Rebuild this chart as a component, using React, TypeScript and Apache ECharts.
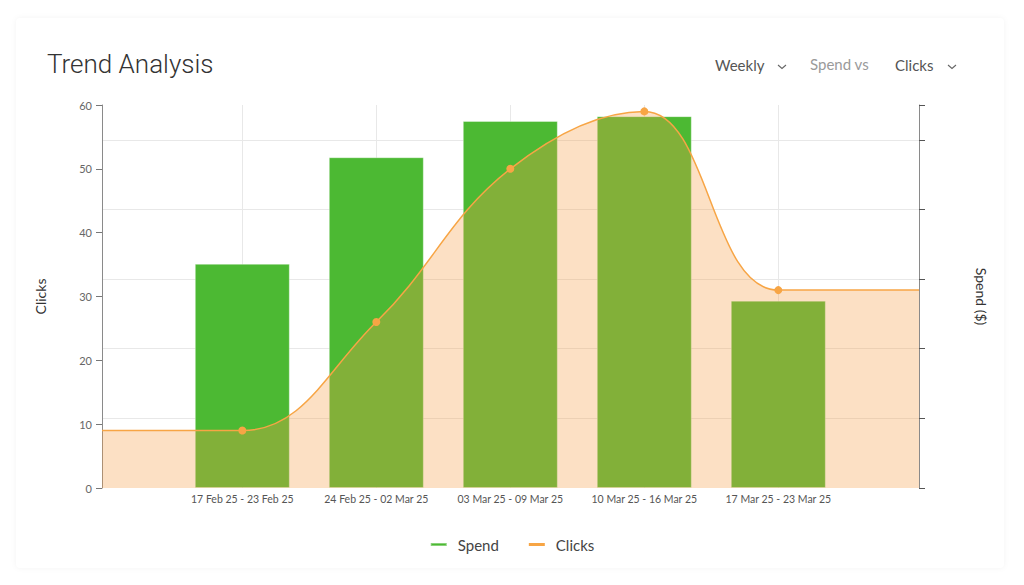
import React, { useEffect, useRef } from "react";
import * as echarts from "echarts";

const weeks = [
  "17 Feb 25 - 23 Feb 25",
  "24 Feb 25 - 02 Mar 25",
  "03 Mar 25 - 09 Mar 25",
  "10 Mar 25 - 16 Mar 25",
  "17 Mar 25 - 23 Mar 25",
];
const spend = [322, 475, 527, 534, 269];
const clicks = [9, 26, 50, 59, 31];

const GREEN = "#4cb933";
const ORANGE = "#f7a545";
const FONT = "Lato, 'Noto Sans', sans-serif";

export default function App() {
  const ref = useRef<HTMLDivElement>(null);

  useEffect(() => {
    if (!ref.current) return;
    const chart = echarts.init(ref.current, undefined, { renderer: "svg" });
    const xMin = -1.047;
    const xMax = weeks.length - 1 + 1.05;
    const lineData: any[] = [
      { value: [xMin, clicks[0]], symbol: "none" },
      ...clicks.map((c, i) => [i, c]),
      { value: [xMax, clicks[clicks.length - 1]], symbol: "none" },
    ];
    const chev = (x: number, y: number) => ({
      type: "polyline",
      shape: { points: [[x, y], [x + 4, y + 3.5], [x + 8, y]] },
      style: { stroke: "#666", lineWidth: 1.1, fill: null },
    });
    chart.setOption({
      animation: false,
      textStyle: { fontFamily: FONT },
      title: {
        text: "Trend Analysis",
        left: 42,
        top: 46,
        textStyle: {
          fontFamily: "Roboto, sans-serif",
          fontWeight: 300,
          fontSize: 26,
          color: "#333",
        },
      },
      graphic: [
        {
          type: "text",
          left: 715,
          top: 57,
          style: { text: "Weekly", font: "15px " + FONT, fill: "#555" },
        },
        chev(778, 65),
        {
          type: "text",
          left: 810,
          top: 56,
          style: { text: "Spend vs", font: "15px " + FONT, fill: "#9a9a9a" },
        },
        {
          type: "text",
          left: 895,
          top: 57,
          style: { text: "Clicks", font: "15px " + FONT, fill: "#555" },
        },
        chev(948, 65),
      ],
      legend: {
        bottom: 28,
        left: "center",
        itemWidth: 16,
        itemHeight: 3,
        itemGap: 30,
        textStyle: { fontSize: 15, color: "#444", fontFamily: FONT, padding: [0, 0, 0, 6] },
        data: [
          { name: "Spend", icon: "rect", itemStyle: { color: GREEN } },
          { name: "Clicks", icon: "rect", itemStyle: { color: ORANGE } },
        ],
      },
      grid: { left: 102, right: 105, top: 105, bottom: 97, containLabel: false },
      xAxis: {
        type: "value",
        min: xMin,
        max: xMax,
        axisLine: { show: false },
        axisTick: { show: false, customValues: weeks.map((_, i) => i) },
        axisLabel: {
          customValues: weeks.map((_, i) => i),
          formatter: (v: number) => weeks[Math.round(v)] ?? "",
          fontSize: 10.5,
          color: "#555",
          margin: 5,
        },
        splitLine: { show: true, lineStyle: { color: "#e8e8e8", width: 1 } },
      },
      yAxis: [
        {
          type: "value",
          min: 0,
          max: 60,
          interval: 10,
          name: "Clicks",
          nameLocation: "middle",
          nameGap: 55,
          nameTextStyle: { fontSize: 14, color: "#333", fontFamily: FONT },
          axisLine: { show: true, onZero: false, lineStyle: { color: "#8a8a8a" } },
          axisTick: { show: true, length: 6, lineStyle: { color: "#777" } },
          axisLabel: { fontSize: 11, color: "#666", margin: 10 },
          splitLine: { show: false },
        },
        {
          type: "value",
          min: 0,
          max: 550,
          interval: 100,
          position: "right",
          name: "Spend ($)",
          nameLocation: "middle",
          nameRotate: -90,
          nameGap: 55,
          nameTextStyle: { fontSize: 14, color: "#333", fontFamily: FONT },
          axisLine: { show: true, onZero: false, lineStyle: { color: "#8a8a8a" } },
          axisTick: { show: true, length: 6, lineStyle: { color: "#555" } },
          axisLabel: { show: false },
          splitLine: {
            show: true,
            showMaxLine: false,
            showMinLine: false,
            lineStyle: { color: "#e8e8e8", width: 1 },
          },
        },
      ],
      series: [
        {
          name: "Spend",
          type: "bar",
          yAxisIndex: 1,
          barWidth: 95,
          itemStyle: { color: GREEN, borderColor: "rgba(255,255,255,0.35)", borderWidth: 1 },
          data: spend.map((s, i) => [i, s]),
        },
        {
          name: "Clicks",
          type: "line",
          yAxisIndex: 0,
          smooth: 0.4,
          symbol: "circle",
          symbolSize: 8,
          lineStyle: { color: ORANGE, width: 1.5 },
          itemStyle: { color: ORANGE },
          areaStyle: { color: "rgba(247,160,70,0.32)", opacity: 1, origin: "start" },
          data: lineData,
        },
      ],
    });
    return () => chart.dispose();
  }, []);

  return (
    <div style={{ position: "fixed", left: 0, top: 0, width: 1024, height: 585, background: "#fff" }}>
      <div
        style={{
          position: "absolute",
          left: 16,
          top: 18,
          width: 988,
          height: 550,
          borderRadius: 4,
          boxShadow: "0 0 6px rgba(0,0,0,0.05)",
          background: "#fff",
        }}
      />
      <div ref={ref} style={{ position: "absolute", left: 0, top: 0, width: 1024, height: 585 }} />
    </div>
  );
}
